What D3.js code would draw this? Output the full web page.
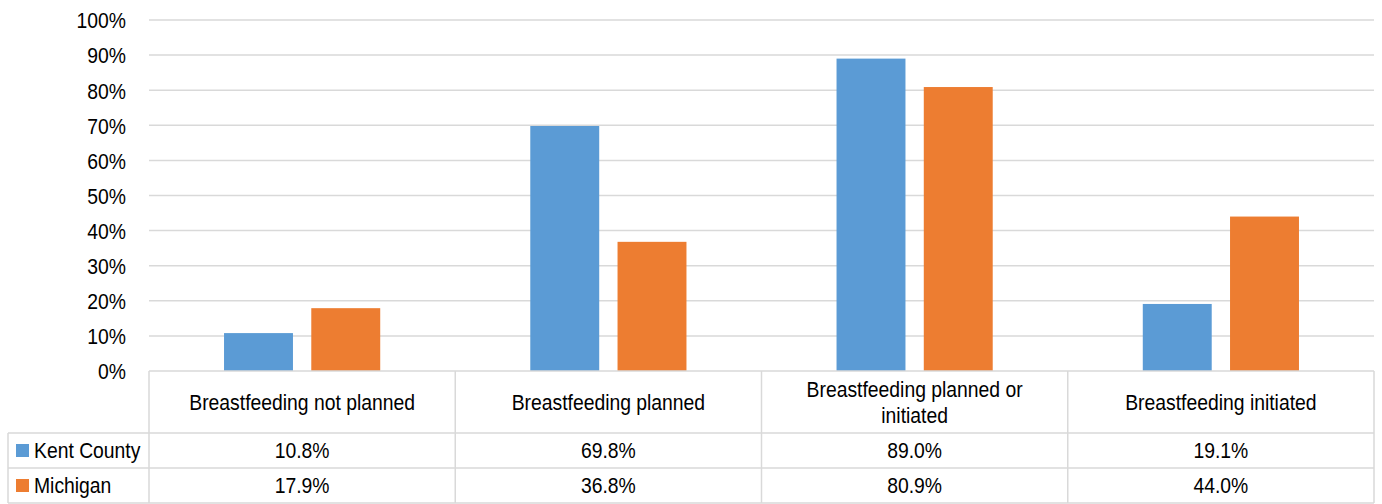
<!DOCTYPE html>
<html>
<head>
<meta charset="utf-8">
<script src="https://cdn.jsdelivr.net/npm/d3@7"></script>
<style>
  html, body { margin: 0; padding: 0; background: #fff; }
  svg { display: block; }
  text { font-family: "Liberation Sans", Arial, sans-serif; fill: #000; }
</style>
</head>
<body>
<svg id="chart" width="1382" height="504"></svg>
<script>
const categories = ["Breastfeeding not planned", "Breastfeeding planned", "Breastfeeding planned or initiated", "Breastfeeding initiated"];
const seriesNames = ["Kent County", "Michigan"];
const kentValues = [10.8, 69.8, 89.0, 19.1];
const michiganValues = [17.9, 36.8, 80.9, 44.0];
const yTicks = [0, 10, 20, 30, 40, 50, 60, 70, 80, 90, 100];
const colors = ["#5B9BD5", "#ED7D31"];

const seriesValues = [kentValues, michiganValues];
const svg = d3.select("#chart");
const plotLeft = 149, plotRight = 1374, plotTop = 20, plotBottom = 371;
const tableLeft = 8;
const rowLines = [371, 433, 468, 503];
const gridColor = "#d9d9d9";
const fontSize = 21.5;
const sx = 0.9;

const x0 = d3.scaleBand().domain(categories).range([plotLeft, plotRight]).paddingInner(0).paddingOuter(0);
const bw = x0.bandwidth();
const x1 = d3.scaleBand().domain(seriesNames).range([bw * 0.245, bw * 0.755]).paddingInner(0.21).paddingOuter(0);
const y = d3.scaleLinear().domain([0, 100]).range([plotBottom, plotTop]);

function label(x, yy, str, anchor) {
  return svg.append("g").attr("transform", `translate(${x},${yy}) scale(${sx},1)`)
    .append("text").attr("x", 0).attr("y", 0).attr("font-size", fontSize)
    .attr("text-anchor", anchor || "start").text(str);
}

// gridlines
svg.append("g").selectAll("line").data(yTicks.filter(t => t > 0)).join("line")
  .attr("x1", plotLeft).attr("x2", plotRight)
  .attr("y1", d => y(d)).attr("y2", d => y(d))
  .attr("stroke", gridColor).attr("stroke-width", 1.5);

// y axis labels
const yAxis = d3.axisLeft(y).tickValues(yTicks).tickFormat(d => d + "%").tickSize(0).tickPadding(0);
const yg = svg.append("g").attr("transform", `translate(126,0)`).call(yAxis);
yg.select(".domain").remove();
yg.selectAll("text").attr("font-size", fontSize).attr("font-family", '"Liberation Sans", Arial, sans-serif')
  .attr("fill", "#000").attr("dy", null).attr("y", 7.8).attr("text-anchor", "end").attr("x", 0)
  .attr("transform", `scale(${sx},1)`);

// bars
const barData = [];
categories.forEach((c, i) => seriesNames.forEach((s, j) => barData.push({ c, s, v: seriesValues[j][i], j })));
svg.append("g").selectAll("rect").data(barData).join("rect")
  .attr("x", d => x0(d.c) + x1(d.s))
  .attr("width", x1.bandwidth())
  .attr("y", d => y(d.v))
  .attr("height", d => y(0) - y(d.v))
  .attr("fill", d => colors[d.j]);

// table lines
const tg = svg.append("g").attr("stroke", gridColor).attr("stroke-width", 1.5).attr("fill", "none");
tg.append("line").attr("x1", plotLeft).attr("x2", plotRight).attr("y1", rowLines[0]).attr("y2", rowLines[0]);
rowLines.slice(1).forEach(yy => tg.append("line").attr("x1", tableLeft).attr("x2", plotRight).attr("y1", yy).attr("y2", yy));
tg.append("line").attr("x1", tableLeft).attr("x2", tableLeft).attr("y1", rowLines[1]).attr("y2", rowLines[3]);
const colEdges = categories.map(c => x0(c)).concat([plotRight]);
colEdges.forEach(xx => tg.append("line").attr("x1", xx).attr("x2", xx).attr("y1", rowLines[0]).attr("y2", rowLines[3]));

// category labels (wrapped)
const maxW = bw - 30;
categories.forEach(c => {
  const cx = x0(c) + bw / 2;
  const t = svg.append("g").attr("transform", `translate(${cx},0) scale(${sx},1)`)
    .append("text").attr("font-size", fontSize).attr("text-anchor", "middle").attr("x", 0);
  const words = c.split(" ");
  let lines = [], cur = [];
  const tmp = t.append("tspan");
  words.forEach(w => {
    cur.push(w);
    tmp.text(cur.join(" "));
    if (tmp.node().getComputedTextLength() * sx > maxW && cur.length > 1) {
      cur.pop(); lines.push(cur.join(" ")); cur = [w];
    }
  });
  lines.push(cur.join(" "));
  tmp.remove();
  const lh = 26;
  const mid = (rowLines[0] + rowLines[1]) / 2;
  const firstBase = mid + 7.8 - (lines.length - 1) * lh / 2;
  lines.forEach((ln, k) => t.append("tspan").attr("x", 0).attr("y", firstBase + k * lh).text(ln));
});

// data rows
seriesNames.forEach((s, j) => {
  const top = rowLines[j + 1], bot = rowLines[j + 2];
  const mid = (top + bot) / 2;
  svg.append("rect").attr("x", 16).attr("y", mid - 6.5).attr("width", 13).attr("height", 13).attr("fill", colors[j]);
  label(34, mid + 7.8, s, "start");
  categories.forEach((c, i) => {
    label(x0(c) + bw / 2, mid + 7.8, seriesValues[j][i].toFixed(1) + "%", "middle");
  });
});
</script>
</body>
</html>
